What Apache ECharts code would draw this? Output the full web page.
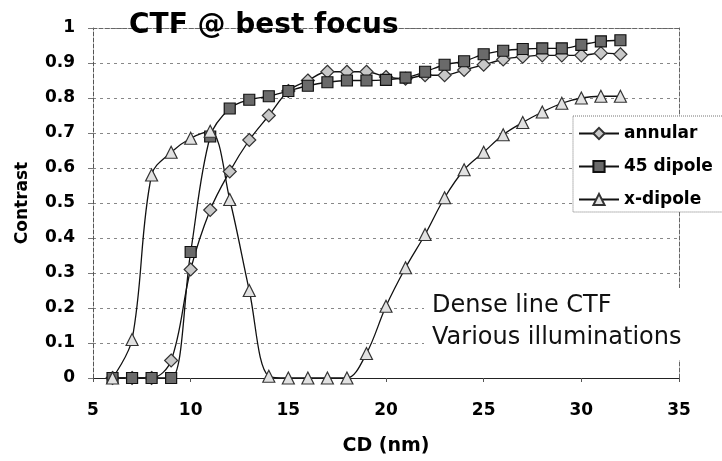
<!DOCTYPE html>
<html>
<head>
<meta charset="utf-8">
<script src="https://cdn.jsdelivr.net/npm/echarts@6/dist/echarts.min.js"></script>
<style>
html,body{margin:0;padding:0;background:#fff;}
#chart{width:722px;height:461px;}
</style>
</head>
<body>
<div id="chart"></div>
<script>
// ---- data ----
var cd = [6,7,8,9,10,11,12,13,14,15,16,17,18,19,20,21,22,23,24,25,26,27,28,29,30,31,32];
var annular = [0,0,0,0.05,0.31,0.48,0.59,0.68,0.75,0.82,0.85,0.875,0.875,0.875,0.86,0.855,0.865,0.865,0.88,0.895,0.91,0.918,0.922,0.922,0.922,0.928,0.925];
var dipole45 = [0,0,0,0,0.36,0.69,0.77,0.795,0.805,0.82,0.835,0.845,0.85,0.85,0.852,0.858,0.875,0.895,0.905,0.925,0.935,0.94,0.942,0.942,0.952,0.962,0.965];
var xdipole = [0,0.11,0.58,0.645,0.685,0.705,0.51,0.25,0.005,0,0,0,0,0.07,0.205,0.315,0.41,0.515,0.595,0.645,0.695,0.73,0.76,0.785,0.8,0.805,0.805];
var seriesNames = ['annular','45 dipole','x-dipole'];
var xTickLabels = ['5','10','15','20','25','30','35'];
var yTickLabels = ['0','0.1','0.2','0.3','0.4','0.5','0.6','0.7','0.8','0.9','1'];
var titleText = 'CTF @ best focus';
var noteText = 'Dense line CTF\nVarious illuminations';
var xName = 'CD (nm)';
var yName = 'Contrast';

function pairs(ys){ return cd.map(function(x,i){ return [x, ys[i]]; }); }

var FONT = '"DejaVu Sans", Verdana, sans-serif';
var chart = echarts.init(document.getElementById('chart'), null, {renderer:'canvas'});

function mkSeries(name, ys, symbol, size, fill, border){
  return {
    name: name, type: 'line', data: pairs(ys), smooth: 0.35,
    symbol: symbol, symbolSize: size, showAllSymbol: true,
    lineStyle: {color: '#111', width: 1.3},
    itemStyle: {color: fill, borderColor: border, borderWidth: 1.2},
    emphasis: {disabled: true}, z: 3
  };
}

chart.setOption({
  animation: false,
  backgroundColor: '#fff',
  title: {
    text: titleText, left: 124, top: 7,
    textStyle: {fontFamily: FONT, fontSize: 28, fontWeight: 'bold', color: '#000'}
  },
  legend: {
    data: seriesNames, orient: 'vertical', left: 573, top: 116,
    itemWidth: 40, itemHeight: 14, itemGap: 16,
    padding: [9, 14, 4, 5],
    backgroundColor: '#fff', borderColor: '#777', borderWidth: 1, borderType: 'dotted',
    textStyle: {fontFamily: FONT, fontSize: 17, fontWeight: 'bold', color: '#000', padding: [0,0,0,0]},
    z: 10
  },
  grid: {left: 93, right: 43, top: 28, bottom: 81, containLabel: false},
  xAxis: [{
    type: 'value', min: 5, max: 35, interval: 5,
    name: xName, nameLocation: 'middle', nameGap: 59,
    nameTextStyle: {fontFamily: FONT, fontSize: 19, fontWeight: 'bold', color: '#000'},
    axisLine: {show: true, onZero: false, lineStyle: {color: '#222', width: 1.2}},
    axisTick: {show: true, length: 4, lineStyle: {color: '#555'}},
    axisLabel: {margin: 24, fontFamily: FONT, fontSize: 17, fontWeight: 'bold', color: '#000',
      formatter: function(v){ var i = Math.round((v-5)/5); return xTickLabels[i] || ''; }},
    splitLine: {show: false}
  },{
    type: 'value', min: 5, max: 35, position: 'top',
    axisLine: {show: true, onZero: false, lineStyle: {color: '#666', width: 1, type: 'dashed'}},
    axisTick: {show: false}, axisLabel: {show: false}, splitLine: {show: false}
  }],
  yAxis: [{
    type: 'value', min: 0, max: 1, interval: 0.1,
    name: yName, nameLocation: 'middle', nameGap: 62, nameRotate: 90,
    nameTextStyle: {fontFamily: FONT, fontSize: 17, fontWeight: 'bold', color: '#000'},
    axisLine: {show: true, onZero: false, lineStyle: {color: '#555', width: 1, type: 'dashed'}},
    axisTick: {show: true, length: 5, lineStyle: {color: '#777'}},
    axisLabel: {margin: 18, fontFamily: FONT, fontSize: 17, fontWeight: 'bold', color: '#000',
      formatter: function(v){ var i = Math.round(v*10); return yTickLabels[i] || ''; }},
    splitLine: {show: true, lineStyle: {color: '#888', width: 1, type: [3, 4]}}
  },{
    type: 'value', min: 0, max: 1, position: 'right',
    axisLine: {show: true, onZero: false, lineStyle: {color: '#666', width: 1, type: 'dashed'}},
    axisTick: {show: false}, axisLabel: {show: false}, splitLine: {show: false}
  }],
  graphic: [{
    type: 'text', left: 424, top: 288, z: 5,
    style: {
      text: noteText, fill: '#111', font: '24px "DejaVu Sans", Verdana, sans-serif',
      lineHeight: 32, backgroundColor: '#fff', padding: [2, 8, 6, 8]
    }
  }],
  series: [
    mkSeries(seriesNames[0], annular, 'diamond', 13, '#c8c8c8', '#333'),
    mkSeries(seriesNames[1], dipole45, 'rect', 11, '#6a6a6a', '#111'),
    mkSeries(seriesNames[2], xdipole, 'triangle', 12, '#e2e2e2', '#333')
  ]
});
</script>
</body>
</html>
